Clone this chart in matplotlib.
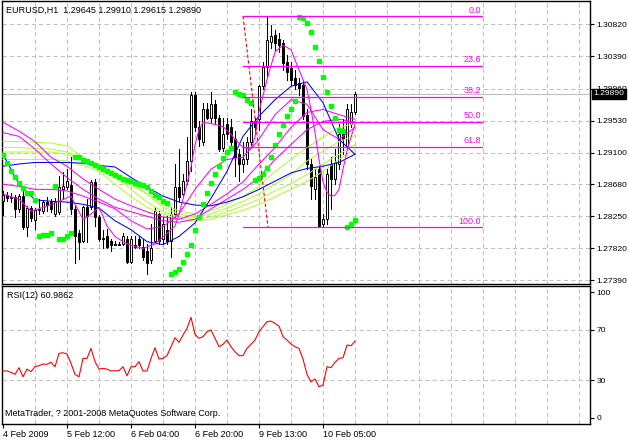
import numpy as np
import matplotlib.pyplot as plt
from matplotlib.patches import Rectangle
from matplotlib.transforms import blended_transform_factory

plt.rcParams['font.family'] = ['Liberation Sans', 'DejaVu Sans']
plt.rcParams['font.size'] = 6.5

# EURUSD H1 bars (bar 0 = 4 Feb 2009)
opens = [1.2845, 1.2853, 1.2849, 1.2851, 1.2835, 1.2852, 1.2811, 1.2836, 1.2820, 1.2834,
         1.2832, 1.2844, 1.2844, 1.2828, 1.2831, 1.2861, 1.2864, 1.2867, 1.2835, 1.2802,
         1.2792, 1.2837, 1.2837, 1.2871, 1.2824, 1.2795, 1.2798, 1.2792, 1.2788, 1.2788,
         1.2788, 1.2795, 1.2764, 1.2786, 1.2794, 1.2784, 1.2779, 1.2766, 1.2792, 1.2828,
         1.2795, 1.2806, 1.2792, 1.2828, 1.2864, 1.2855, 1.2872, 1.2899, 1.2988, 1.2944,
         1.2925, 1.2968, 1.2957, 1.2975, 1.2957, 1.2917, 1.2948, 1.2944, 1.2928, 1.2908,
         1.2895, 1.2901, 1.2924, 1.2952, 1.2955, 1.2999, 1.3025, 1.3058, 1.3068, 1.3062,
         1.3057, 1.3032, 1.3024, 1.3010, 1.3004, 1.3001, 1.2961, 1.2895, 1.2861, 1.2888,
         1.2815, 1.2821, 1.2895, 1.2875, 1.2895, 1.2941, 1.2919, 1.2948, 1.29645]
highs = [1.2859, 1.2857, 1.2856, 1.2853, 1.2855, 1.2859, 1.2839, 1.2839, 1.2836, 1.2848,
         1.2847, 1.2851, 1.2848, 1.2849, 1.2879, 1.2884, 1.2888, 1.2905, 1.2839, 1.2806,
         1.2839, 1.2848, 1.2873, 1.2875, 1.2827, 1.2806, 1.2808, 1.2795, 1.2792, 1.2791,
         1.2802, 1.2799, 1.2798, 1.2799, 1.2799, 1.2795, 1.2788, 1.2815, 1.2837, 1.2832,
         1.2824, 1.2825, 1.2837, 1.2895, 1.2915, 1.2881, 1.2931, 1.2992, 1.2991, 1.2952,
         1.2976, 1.2977, 1.2991, 1.2981, 1.2961, 1.2957, 1.2957, 1.2955, 1.2939, 1.2915,
         1.2924, 1.2931, 1.2968, 1.2957, 1.3001, 1.3032, 1.3093, 1.3081, 1.3074, 1.3070,
         1.3061, 1.3041, 1.3032, 1.3021, 1.3010, 1.3008, 1.2968, 1.2901, 1.2888, 1.2891,
         1.2828, 1.2888, 1.2905, 1.2915, 1.2948, 1.2955, 1.2975, 1.2975, 1.29910]
lows = [1.2827, 1.2845, 1.2844, 1.2824, 1.2831, 1.2808, 1.2798, 1.2819, 1.2808, 1.2828,
        1.2829, 1.2832, 1.2831, 1.2825, 1.2828, 1.2848, 1.2861, 1.2828, 1.2762, 1.2768,
        1.2791, 1.2791, 1.2835, 1.2812, 1.2792, 1.2782, 1.2782, 1.2779, 1.2786, 1.2786,
        1.2786, 1.2762, 1.2762, 1.2782, 1.2783, 1.2766, 1.2748, 1.2762, 1.2791, 1.2788,
        1.2788, 1.2788, 1.2771, 1.2824, 1.2845, 1.2851, 1.2868, 1.2885, 1.2939, 1.2919,
        1.2921, 1.2955, 1.2951, 1.2948, 1.2912, 1.2912, 1.2928, 1.2915, 1.2879, 1.2872,
        1.2884, 1.2895, 1.2920, 1.2935, 1.2941, 1.2995, 1.3012, 1.3050, 1.3048, 1.3045,
        1.3021, 1.3008, 1.3001, 1.2995, 1.2988, 1.2955, 1.2888, 1.2848, 1.2848, 1.2810,
        1.2810, 1.2815, 1.2835, 1.2868, 1.2888, 1.2908, 1.2915, 1.2944, 1.29615]
closes = [1.2853, 1.2849, 1.2851, 1.2835, 1.2852, 1.2811, 1.2836, 1.2823, 1.2834, 1.2835,
          1.2844, 1.2840, 1.2835, 1.2844, 1.2864, 1.2865, 1.2872, 1.2835, 1.2799, 1.2791,
          1.2837, 1.2825, 1.2871, 1.2824, 1.2795, 1.2796, 1.2784, 1.2786, 1.2787, 1.2787,
          1.2798, 1.2764, 1.2795, 1.2784, 1.2786, 1.2771, 1.2762, 1.2782, 1.2832, 1.2792,
          1.2815, 1.2792, 1.2828, 1.2864, 1.2851, 1.2872, 1.2899, 1.2988, 1.2944, 1.2928,
          1.2968, 1.2957, 1.2975, 1.2957, 1.2915, 1.2935, 1.2935, 1.2924, 1.2905, 1.2895,
          1.2901, 1.2924, 1.2952, 1.2944, 1.2999, 1.3025, 1.3061, 1.3066, 1.3057, 1.3054,
          1.3030, 1.3018, 1.3008, 1.3001, 1.2997, 1.2959, 1.2895, 1.2865, 1.2877, 1.2812,
          1.2821, 1.2881, 1.2875, 1.2897, 1.2935, 1.2928, 1.2968, 1.2965, 1.29890]

# Parabolic SAR, one dot per bar
sar = [1.2907, 1.2896, 1.2885, 1.2877, 1.2869, 1.2863, 1.2856, 1.2856, 1.2847, 1.2799,
       1.2800, 1.2800, 1.2802, 1.2865, 1.2794, 1.2794, 1.2799, 1.2803, 1.2905, 1.2904,
       1.2900, 1.2899, 1.2896, 1.2893, 1.2891, 1.2888, 1.2885, 1.2883, 1.2880, 1.2877,
       1.2875, 1.2873, 1.2872, 1.2869, 1.2868, 1.2867, 1.2864, 1.2859, 1.2853, 1.2851,
       1.2845, 1.2843, 1.2748, 1.2750, 1.2755, 1.2764, 1.2774, 1.2786, 1.2806, 1.2824,
       1.2841, 1.2856, 1.2869, 1.2881, 1.2892, 1.2903, 1.2911, 1.2916, 1.2991, 1.2989,
       1.2987, 1.2981, 1.2977, 1.2873, 1.2876, 1.2881, 1.2889, 1.2905, 1.2921, 1.2935,
       1.2947, 1.2959, 1.2969, 1.2979, 1.3092, 1.3090, 1.3084, 1.3072, 1.3052, 1.3033,
       1.3011, 1.2991, 1.2973, 1.2956, 1.2941, 1.2939, 1.2811, 1.2814, 1.2820]

# RSI(12)
rsi = [37.2, 37.2, 36.1, 34.5, 39.8, 32.6, 38.7, 36.6, 40.6, 41.4,
       42.7, 42.5, 44.1, 40.6, 51.2, 51.7, 50.7, 43.3, 34.5, 32.6,
       47.2, 47.2, 55.2, 44.6, 38.7, 39.3, 38.7, 37.2, 37.4, 37.4,
       40.6, 33.4, 40.6, 40.6, 44.6, 37.2, 37.2, 47.2, 55.7, 46.7,
       47.2, 49.4, 56.5, 63.7, 60.0, 65.8, 71.1, 79.9, 66.3, 63.2,
       64.5, 68.4, 69.8, 63.2, 56.5, 58.4, 61.8, 56.5, 52.5, 49.4,
       49.4, 55.2, 58.4, 61.8, 68.4, 72.4, 76.4, 76.9, 75.1, 72.9,
       64.5, 61.8, 58.6, 56.5, 55.2, 46.7, 34.5, 28.6, 30.8, 24.7,
       26.0, 40.6, 39.8, 44.1, 47.2, 47.7, 57.8, 57.3, 60.99]

# moving averages, read every 4 bars
ma_idx = list(range(0, 89, 4))
blue_slow = [1.2892, 1.2895, 1.2897, 1.2897, 1.2897, 1.2896, 1.2893, 1.2891, 1.2877, 1.2864,
             1.2852, 1.2844, 1.2840, 1.2839, 1.2844, 1.2851, 1.2861, 1.2872, 1.2883, 1.2889,
             1.2892, 1.2897, 1.2908]
blue_fast = [1.2908, 1.2868, 1.2847, 1.2845, 1.2844, 1.2841, 1.2836, 1.2819, 1.2807, 1.2791,
             1.2787, 1.2798, 1.2816, 1.2849, 1.2885, 1.2932, 1.2959, 1.2981, 1.2999, 1.3005,
             1.2977, 1.2928, 1.2908]
mag_slow1 = [1.2951, 1.2939, 1.2925, 1.2904, 1.2892, 1.2875, 1.2861, 1.2848, 1.2839, 1.2831,
             1.2824, 1.2821, 1.2828, 1.2841, 1.2855, 1.2871, 1.2895, 1.2917, 1.2944, 1.2964,
             1.2968, 1.2961, 1.2955]
mag_slow2 = [1.2937, 1.2932, 1.2915, 1.2895, 1.2877, 1.2861, 1.2848, 1.2837, 1.2831, 1.2825,
             1.2819, 1.2817, 1.2821, 1.2835, 1.2848, 1.2861, 1.2877, 1.2901, 1.2921, 1.2941,
             1.2952, 1.2955, 1.2951]
mag_mid = [1.2868, 1.2865, 1.2861, 1.2861, 1.2859, 1.2852, 1.2844, 1.2835, 1.2819, 1.2808,
           1.2811, 1.2828, 1.2861, 1.2888, 1.2901, 1.2904, 1.2928, 1.2961, 1.2981, 1.2975,
           1.2941, 1.2928, 1.2944]
green1 = [1.2925, 1.2925, 1.2924, 1.2923, 1.2919, 1.2904, 1.2888, 1.2877, 1.2867, 1.2855,
          1.2841, 1.2832, 1.2828, 1.2832, 1.2841, 1.2852, 1.2865, 1.2885, 1.2901, 1.2917,
          1.2931, 1.2944, 1.2949]
green2 = [1.2917, 1.2917, 1.2916, 1.2915, 1.2911, 1.2901, 1.2895, 1.2884, 1.2871, 1.2855,
          1.2837, 1.2828, 1.2824, 1.2828, 1.2836, 1.2845, 1.2855, 1.2868, 1.2881, 1.2899,
          1.2912, 1.2925, 1.2933]
green3 = [1.2911, 1.2911, 1.2911, 1.2911, 1.2908, 1.2901, 1.2892, 1.2879, 1.2861, 1.2844,
          1.2831, 1.2824, 1.2821, 1.2824, 1.2831, 1.2839, 1.2848, 1.2859, 1.2869, 1.2881,
          1.2895, 1.2908, 1.2921]
green4 = [1.2901, 1.2901, 1.2901, 1.2901, 1.2899, 1.2893, 1.2885, 1.2868, 1.2851, 1.2837,
          1.2828, 1.2821, 1.2819, 1.2821, 1.2827, 1.2833, 1.2841, 1.2851, 1.2861, 1.2872,
          1.2885, 1.2901, 1.2915]
# fast magenta average follows price closely, read at more bars
mag_fast_idx = [0, 2, 4, 7, 9, 12, 14, 17, 18, 20, 22, 24, 25, 26, 28, 30, 32, 35, 38, 41,
                43, 44, 45, 46, 47, 48, 49, 50, 53, 55, 57, 58, 60, 62, 63, 64, 66, 68, 70, 72,
                74, 75, 76, 77, 78, 79, 80, 81, 82, 83, 84, 85, 86, 87, 88]
mag_fast = [1.2855, 1.2851, 1.2848, 1.2832, 1.2835, 1.2841, 1.2845, 1.2852, 1.2841, 1.2821,
            1.2828, 1.2837, 1.2825, 1.2812, 1.2798, 1.2791, 1.2786, 1.2782, 1.2788, 1.2802,
            1.2812, 1.2828, 1.2848, 1.2868, 1.2891, 1.2921, 1.2941, 1.2951, 1.2948, 1.2945,
            1.2935, 1.2928, 1.2917, 1.2915, 1.2931, 1.2965, 1.3008, 1.3045, 1.3054, 1.3048,
            1.3021, 1.3008, 1.2995, 1.2968, 1.2937, 1.2901, 1.2871, 1.2857, 1.2852, 1.2853,
            1.2861, 1.2888, 1.2912, 1.2931, 1.2948]

# Fibonacci retracement
fib_high, fib_low = 1.3093, 1.2810
fib_levels = [0.0, 23.6, 38.2, 50.0, 61.8, 100.0]
fib_x0, fib_x1, trend_x1 = 60, 119.75, 66.25

last_price = 1.29890
price_ticks = [1.27390, 1.27820, 1.28250, 1.28680, 1.29100, 1.29530, 1.29960, 1.30390, 1.30820]
price_labels = ['1.27390', '1.27820', '1.28250', '1.28680', '1.29100', '1.29530', '1.29960',
                '1.30390', '1.30820']
rsi_ticks = [0, 30, 70, 100]
time_ticks = [0, 16, 32, 48, 64, 80]
time_labels = ['4 Feb 2009', '5 Feb 12:00', '6 Feb 04:00', '6 Feb 20:00', '9 Feb 13:00',
               '10 Feb 05:00']

W, H = 628, 441
fig = plt.figure(figsize=(W / 100, H / 100), dpi=100)
fig.patch.set_facecolor('white')
ax = fig.add_axes([2 / W, 1 - 284 / H, 588 / W, 283 / H])
ax2 = fig.add_axes([2 / W, 1 - 424 / H, 588 / W, 138 / H])

xlim = (-0.25, 146.75)
grid_kw = dict(color='#C0C0C0', lw=0.75, dashes=(4, 3), zorder=0)
for a in (ax, ax2):
    a.set_xlim(*xlim)
    for gx in range(8, 147, 8):
        a.axvline(gx, **grid_kw)
    for s in a.spines.values():
        s.set_linewidth(1.0)
        s.set_color('black')
    a.yaxis.tick_right()
    a.tick_params(axis='y', direction='out', length=3, width=0.8, pad=1.5, labelsize=6.1)

# ---- main price panel ----
ax.set_ylim(1.27343, 1.31132)
for p in price_ticks:
    ax.axhline(p, **grid_kw)
ax.set_yticks(price_ticks)
ax.set_yticklabels(price_labels)
ax.set_xticks([])
ax.axhline(last_price, color='#C0C0C0', lw=0.8, zorder=1)

for i in range(len(opens)):
    o, h, l, c = opens[i], highs[i], lows[i], closes[i]
    ax.plot([i, i], [l, h], color='black', lw=0.75, zorder=2)
    lo, hi = min(o, c), max(o, c)
    if hi - lo < 0.00005:
        ax.plot([i - 0.3, i + 0.3], [o, o], color='black', lw=0.75, zorder=2)
    else:
        ax.add_patch(Rectangle((i - 0.3, lo), 0.6, hi - lo,
                               facecolor='white' if c >= o else 'black',
                               edgecolor='black', lw=0.7, zorder=2))

for series, col in [(green1, '#ADFF2F'), (green2, '#ADFF2F'), (green3, '#ADFF2F'),
                    (green4, '#ADFF2F'), (mag_slow1, '#FF00FF'), (mag_slow2, '#FF00FF'),
                    (mag_mid, '#FF00FF'), (blue_slow, '#0000FF'), (blue_fast, '#0000FF')]:
    ax.plot(ma_idx, series, color=col, lw=0.75, zorder=3)
ax.plot(mag_fast_idx, mag_fast, color='#FF00FF', lw=0.75, zorder=3)

ax.plot(range(len(sar)), sar, ls='none', marker='s', ms=2.8, color='#00FF00',
        mec='#00FF00', zorder=4)

# fibonacci lines
ax.plot([fib_x0, trend_x1], [fib_high, fib_low], color='#FF0000', lw=0.8,
        dashes=(3, 2), zorder=5)
for lv in fib_levels:
    price = fib_high - lv / 100 * (fib_high - fib_low)
    ax.plot([fib_x0, fib_x1], [price, price], color='#FF00FF', lw=0.9, zorder=5)
    ax.text(fib_x1 - 0.2, price + 0.0002, f'{lv:.1f}', color='#FF00FF', fontsize=6.5,
            ha='right', va='bottom', zorder=5)

# current price box on the scale
tr = blended_transform_factory(ax.transAxes, ax.transData)
ax.text(1.006, last_price, '1.29890', transform=tr, color='white', fontsize=6.1,
        va='center', ha='left', clip_on=False, zorder=10,
        bbox=dict(facecolor='black', edgecolor='black', pad=1.2))

fig.text(6 / W, 1 - 10 / H, 'EURUSD,H1  1.29645 1.29910 1.29615 1.29890',
         fontsize=6.5, va='center', ha='left')

# ---- RSI panel ----
ax2.set_ylim(-5.0, 104.8)
for r in (30, 70):
    ax2.axhline(r, **grid_kw)
ax2.plot(range(len(rsi)), rsi, color='#FF0000', lw=0.8, zorder=3)
ax2.set_yticks(rsi_ticks)
ax2.set_yticklabels([str(t) for t in rsi_ticks])
ax2.set_xticks(time_ticks)
ax2.set_xticklabels(time_labels, ha='left')
ax2.tick_params(axis='x', direction='out', length=3, width=0.8, pad=1, labelsize=6.5)

fig.text(7 / W, 1 - 296 / H, 'RSI(12) 60.9862', fontsize=6.5, va='center', ha='left')
fig.text(5 / W, 1 - 414 / H, 'MetaTrader, ? 2001-2008 MetaQuotes Software Corp.',
         fontsize=6.5, va='center', ha='left')

fig.savefig('out.png', dpi=100)
